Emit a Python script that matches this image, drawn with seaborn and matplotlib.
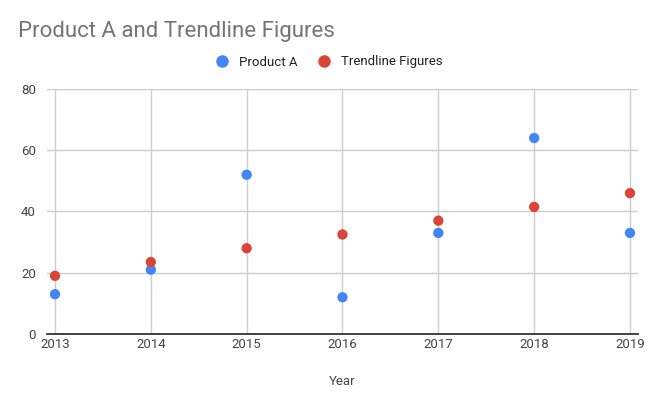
import matplotlib
matplotlib.use('Agg')
import matplotlib.pyplot as plt
import pandas as pd
import seaborn as sns

years = [2013, 2014, 2015, 2016, 2017, 2018, 2019]
product_a = [13, 21, 52, 12, 33, 64, 33]
trendline = [19, 23.5, 28, 32.5, 37, 41.5, 46]

df = pd.DataFrame({
    'Year': years * 2,
    'Value': product_a + trendline,
    'Series': ['Product A'] * len(years) + ['Trendline Figures'] * len(years),
})

sns.set_style('white')
plt.rcParams['font.family'] = ['Roboto', 'DejaVu Sans']

fig = plt.figure(figsize=(6.57, 4.05), dpi=100)
ax = fig.add_axes([47 / 657, 71 / 405, 591 / 657, 245 / 405])

sns.scatterplot(data=df, x='Year', y='Value', hue='Series',
                palette={'Product A': '#4285F4', 'Trendline Figures': '#DB4437'},
                s=55, edgecolor='none', ax=ax, zorder=3, legend=False)

ax.set_xlim(2013 - 8 / 95.8, 2019 + 8 / 95.8)
ax.set_ylim(0, 80)
ax.set_xticks(years)
ax.set_xticklabels([str(y) for y in years])
ax.set_yticks([0, 20, 40, 60, 80])
ax.grid(True, color='#cccccc', linewidth=1)
ax.set_axisbelow(True)
for side in ['top', 'right', 'left']:
    ax.spines[side].set_visible(False)
ax.spines['bottom'].set_color('#333333')
ax.spines['bottom'].set_linewidth(1.3)
ax.spines['bottom'].set_zorder(4)
ax.tick_params(axis='both', length=0, labelsize=9.5, colors='#444444')
ax.tick_params(axis='x', pad=3)
ax.tick_params(axis='y', pad=8)
ax.set_xlabel('Year', fontsize=9.5, color='#444444', labelpad=17)
ax.set_ylabel('')

fig.text(18 / 657, 1 - 31 / 405, 'Product A and Trendline Figures',
         fontsize=16, color='#757575', va='center', ha='left')

handles = [plt.Line2D([], [], marker='o', linestyle='', markersize=9,
                      markerfacecolor=c, markeredgecolor='none')
           for c in ['#4285F4', '#DB4437']]
fig.legend(handles, ['Product A', 'Trendline Figures'], loc='center',
           bbox_to_anchor=(326 / 657, 1 - 62 / 405), ncol=2, frameon=False,
           fontsize=9.5, handletextpad=0.3, columnspacing=1.0, labelcolor='#222222')

fig.savefig('out.png', dpi=100)
